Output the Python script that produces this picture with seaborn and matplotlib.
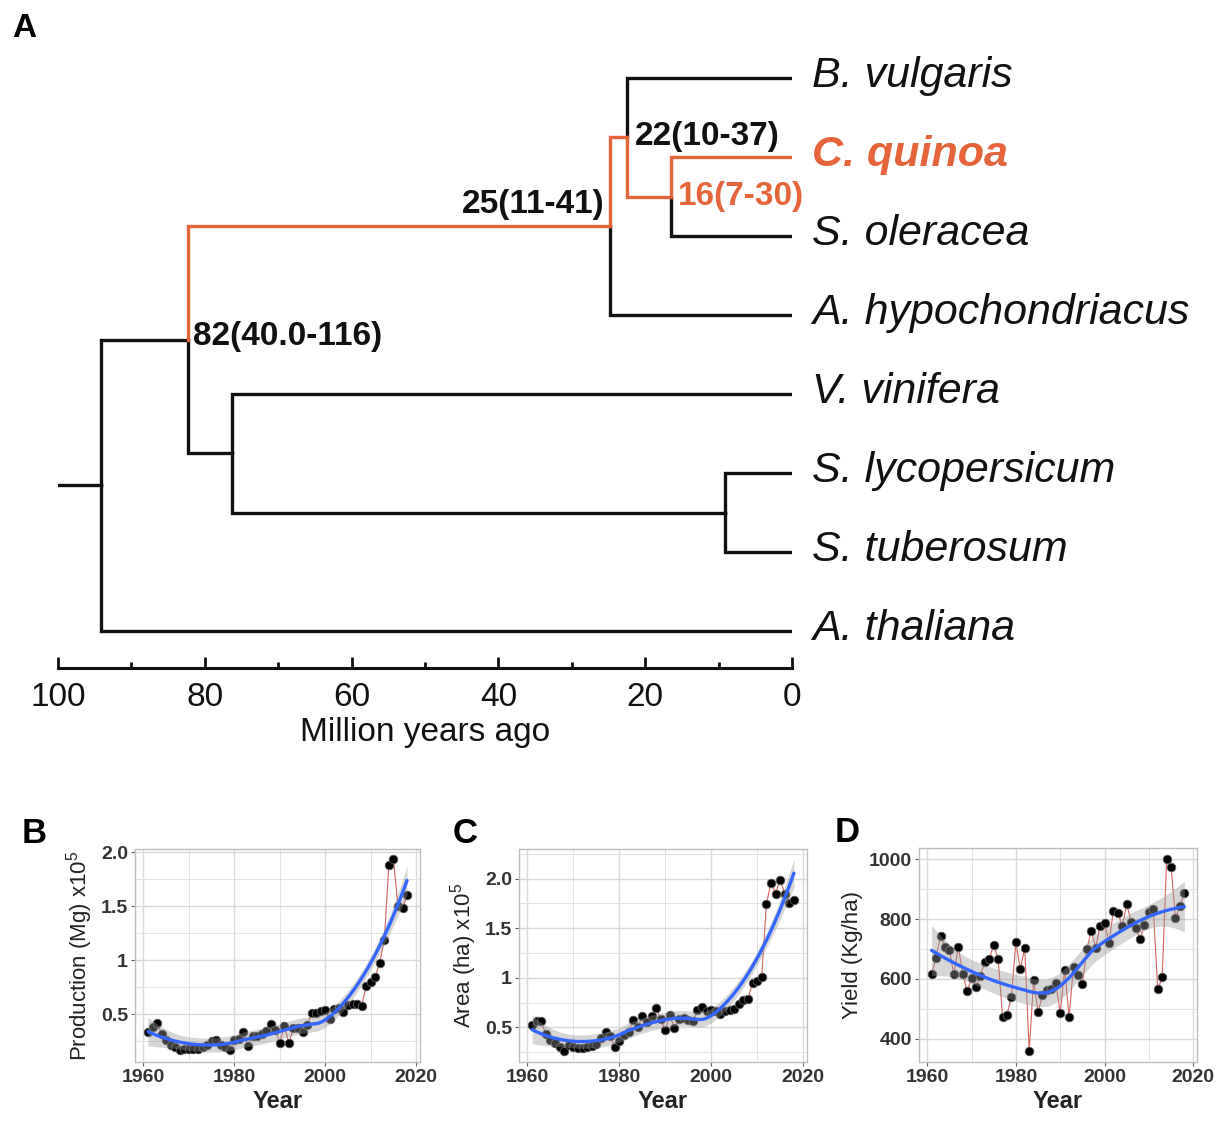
import numpy as np
import pandas as pd
import matplotlib
matplotlib.use("Agg")
import matplotlib.pyplot as plt
import seaborn as sns
from matplotlib.ticker import FixedLocator

sns.set_theme(style="white")
plt.rcParams["font.family"] = ["Liberation Sans", "DejaVu Sans"]
plt.rcParams["mathtext.fontset"] = "custom"
plt.rcParams["mathtext.rm"] = "Liberation Sans"

# ---------------- Data: panel A (dated phylogeny) ----------------
species = ["B. vulgaris", "C. quinoa", "S. oleracea", "A. hypochondriacus",
           "V. vinifera", "S. lycopersicum", "S. tuberosum", "A. thaliana"]
highlight_species = "C. quinoa"
node_names = ["n16", "n22", "n25", "n9", "n76", "n82", "root"]
node_ages = [16.5, 22.5, 24.8, 9.1, 76.3, 82.3, 94.2]
node_children = [("C. quinoa", "S. oleracea"), ("B. vulgaris", "n16"),
                 ("n22", "A. hypochondriacus"), ("S. lycopersicum", "S. tuberosum"),
                 ("V. vinifera", "n9"), ("n25", "n76"), ("n82", "A. thaliana")]
node_label_names = ["n82", "n25", "n22", "n16"]
node_label_texts = ["82(40.0-116)", "25(11-41)", "22(10-37)", "16(7-30)"]
highlight_path = ["n25", "n22", "n16", "C. quinoa"]
stub_age = 100
time_ticks = [100, 80, 60, 40, 20, 0]

# ---------------- Data: panels B-D (1961-2018) ----------------
years = list(range(1961, 2019))
production = [0.34, 0.38, 0.42, 0.32, 0.26, 0.22, 0.20, 0.17, 0.18, 0.18,
              0.18, 0.18, 0.20, 0.22, 0.25, 0.26, 0.22, 0.20, 0.17, 0.26,
              0.27, 0.34, 0.21, 0.30, 0.30, 0.32, 0.35, 0.41, 0.36, 0.24,
              0.39, 0.24, 0.37, 0.37, 0.34, 0.40, 0.51, 0.51, 0.53, 0.54,
              0.46, 0.55, 0.56, 0.52, 0.59, 0.60, 0.60, 0.58, 0.76, 0.80,
              0.85, 0.98, 1.19, 1.88, 1.94, 1.50, 1.48, 1.60]
area = [0.52, 0.56, 0.56, 0.43, 0.37, 0.34, 0.30, 0.26, 0.32, 0.30,
        0.29, 0.29, 0.30, 0.31, 0.33, 0.39, 0.45, 0.41, 0.30, 0.36,
        0.42, 0.45, 0.57, 0.50, 0.61, 0.55, 0.61, 0.70, 0.58, 0.47,
        0.62, 0.49, 0.58, 0.59, 0.57, 0.56, 0.67, 0.71, 0.66, 0.67,
        0.66, 0.63, 0.66, 0.67, 0.69, 0.74, 0.78, 0.79, 0.95, 0.97,
        1.01, 1.74, 1.96, 1.85, 1.99, 1.85, 1.75, 1.79]
yield_kg = [618, 671, 743, 708, 697, 615, 708, 618, 559, 602,
            574, 611, 657, 665, 715, 666, 474, 481, 540, 724,
            632, 704, 359, 596, 490, 546, 563, 566, 587, 487,
            630, 474, 641, 613, 583, 699, 760, 705, 777, 786,
            721, 828, 821, 777, 849, 791, 771, 732, 780, 825,
            833, 565, 605, 1000, 975, 802, 844, 888]

ORANGE = "#E5643A"
BLACK = "#111111"

fig = plt.figure(figsize=(12.24, 11.22), dpi=100)
W, H = 1224, 1122

def fig_rect(x0, y0, x1, y1):
    return [x0 / W, 1 - y1 / H, (x1 - x0) / W, (y1 - y0) / H]

# ================= Panel A =================
tip0_px, step_px, axis_px, top_px = 78.0, 79.0, 668.0, 40.0
axA = fig.add_axes(fig_rect(58, top_px, 792, axis_px))
axA.set_xlim(100, 0)
axA.set_ylim((axis_px - tip0_px) / step_px, (top_px - tip0_px) / step_px)

ypos = {s: i for i, s in enumerate(species)}
age = {s: 0.0 for s in species}
for n, a, ch in zip(node_names, node_ages, node_children):
    age[n] = a
    ypos[n] = np.mean([ypos[c] for c in ch])

edges = []
for n, ch in zip(node_names, node_children):
    for c in ch:
        edges.append((n, c))
for hl in (False, True):
    for p, c in edges:
        is_hl = c in highlight_path
        if is_hl != hl:
            continue
        axA.plot([age[p], age[p], age[c]], [ypos[p], ypos[c], ypos[c]],
                 color=ORANGE if is_hl else BLACK, lw=2.4,
                 solid_capstyle="projecting", solid_joinstyle="miter",
                 zorder=3 if is_hl else 2)
axA.plot([stub_age, age["root"]], [ypos["root"], ypos["root"]], color=BLACK,
         lw=2.4, solid_capstyle="projecting")

for s in species:
    hl = s == highlight_species
    axA.text(-2.7, ypos[s] + 0.115, s, ha="left", va="baseline",
             fontsize=31, style="italic", fontweight="bold" if hl else "normal",
             color=ORANGE if hl else BLACK, clip_on=False)

lab_pos = {"n82": (81.6, 3.38, "left", BLACK),
           "n25": (25.5, 1.713, "right", BLACK),
           "n22": (21.4, 0.848, "left", BLACK),
           "n16": (15.6, 1.608, "left", ORANGE)}
for n, t in zip(node_label_names, node_label_texts):
    x, y, ha, col = lab_pos[n]
    axA.text(x, y, t, ha=ha, va="baseline", fontsize=24, fontweight="bold",
             color=col)

sns.despine(ax=axA, left=True, top=True, right=True)
axA.spines["bottom"].set_linewidth(2.2)
axA.spines["bottom"].set_color(BLACK)
axA.set_yticks([])
axA.set_xticks(time_ticks)
axA.xaxis.set_minor_locator(FixedLocator([90, 70, 50, 30, 10]))
axA.tick_params(axis="x", which="major", direction="in", length=8, width=2.0,
                color=BLACK, labelsize=24, pad=10, labelcolor=BLACK, bottom=True)
axA.tick_params(axis="x", which="minor", direction="in", length=4.5, width=2.0,
                color=BLACK, bottom=True)
axA.set_xlabel("Million years ago", fontsize=24, color=BLACK, labelpad=3)


# ================= Panels B-D =================
def loess_fit(x, y, grid, span=0.75):
    """Local quadratic (tricube) regression, as ggplot's default loess."""
    x = np.asarray(x, float)
    y = np.asarray(y, float)
    n = len(x)
    q = int(np.floor(n * span))

    def smoother_rows(points):
        rows = []
        for x0 in points:
            d = np.abs(x - x0)
            h = np.sort(d)[q - 1]
            w = np.clip(1 - (d / h) ** 3, 0, None) ** 3
            X = np.column_stack([np.ones(n), x - x0, (x - x0) ** 2])
            XtW = X.T * w
            rows.append(np.linalg.solve(XtW @ X, XtW)[0])
        return np.array(rows)

    L = smoother_rows(x)
    resid = y - L @ y
    IL = np.eye(n) - L
    delta1 = np.trace(IL.T @ IL)
    sigma = np.sqrt(resid @ resid / delta1)
    G = smoother_rows(grid)
    fit = G @ y
    se = sigma * np.sqrt((G ** 2).sum(axis=1))
    return fit, fit - 2.01 * se, fit + 2.01 * se


def trend_panel(rect, values, ylabel, ylim, yticks, yticklabels, yminor):
    ax = fig.add_axes(rect)
    df = pd.DataFrame({"Year": years, "val": values})
    grid = np.linspace(min(years), max(years), 80)
    fit, lo, hi = loess_fit(years, values, grid)
    sm = pd.DataFrame({"Year": grid, "fit": fit})

    sns.lineplot(data=df, x="Year", y="val", ax=ax, color="#D5625C", lw=0.8,
                 zorder=2)
    sns.scatterplot(data=df, x="Year", y="val", ax=ax, color="black", s=38,
                    edgecolor="#5A5A5A", linewidth=0.6, zorder=3)
    ax.fill_between(grid, lo, hi, color="#999999", alpha=0.4, lw=0, zorder=4)
    sns.lineplot(data=sm, x="Year", y="fit", ax=ax, color="#3366FF", lw=2.4,
                 zorder=6)

    ax.set_xlim(1958.15, 2020.85)
    ax.set_ylim(*ylim)
    ax.set_xticks([1960, 1980, 2000, 2020])
    ax.xaxis.set_minor_locator(FixedLocator([1970, 1990, 2010]))
    ax.set_yticks(yticks)
    ax.set_yticklabels(yticklabels)
    ax.yaxis.set_minor_locator(FixedLocator(yminor))
    ax.grid(True, which="major", color="#D9D9D9", lw=1.0)
    ax.grid(True, which="minor", color="#E3E3E3", lw=0.7)
    ax.set_axisbelow(True)
    for sp in ax.spines.values():
        sp.set_visible(True)
        sp.set_color("#BDBDBD")
        sp.set_linewidth(1.0)
    ax.tick_params(which="major", length=3, width=0.8, color="#666666",
                   labelsize=14, labelcolor="#333333", pad=2, left=True,
                   bottom=True)
    ax.tick_params(which="minor", length=0)
    for lbl in ax.get_xticklabels() + ax.get_yticklabels():
        lbl.set_fontweight("bold")
    ax.set_xlabel("Year", fontsize=17, fontweight="bold", color="#222222",
                  labelpad=3)
    ax.set_ylabel(ylabel, fontsize=16, color="#222222", labelpad=4)
    return ax

trend_panel(fig_rect(135, 849, 420, 1062), production,
            r"Production (Mg) x10$^5$", (0.06, 2.03), [0.5, 1.0, 1.5, 2.0],
            ["0.5", "1", "1.5", "2.0"], [0.25, 0.75, 1.25, 1.75])
trend_panel(fig_rect(519, 849, 807, 1062), area,
            r"Area (ha) x10$^5$", (0.15, 2.30), [0.5, 1.0, 1.5, 2.0],
            ["0.5", "1", "1.5", "2.0"], [0.25, 0.75, 1.25, 1.75, 2.25])
trend_panel(fig_rect(919, 848, 1197, 1062), yield_kg,
            "Yield (Kg/ha)", (323, 1037), [400, 600, 800, 1000],
            ["400", "600", "800", "1000"], [500, 700, 900])

# Panel letters
for letter, (x, y, fs) in {"A": (12, 37, 24), "B": (22, 843, 25),
                           "C": (453, 843, 25), "D": (835, 842, 25)}.items():
    fig.text(x / W, 1 - y / H, letter, fontsize=fs, fontweight="bold",
             color="black", ha="left", va="baseline")

fig.savefig("out.png", dpi=100)
